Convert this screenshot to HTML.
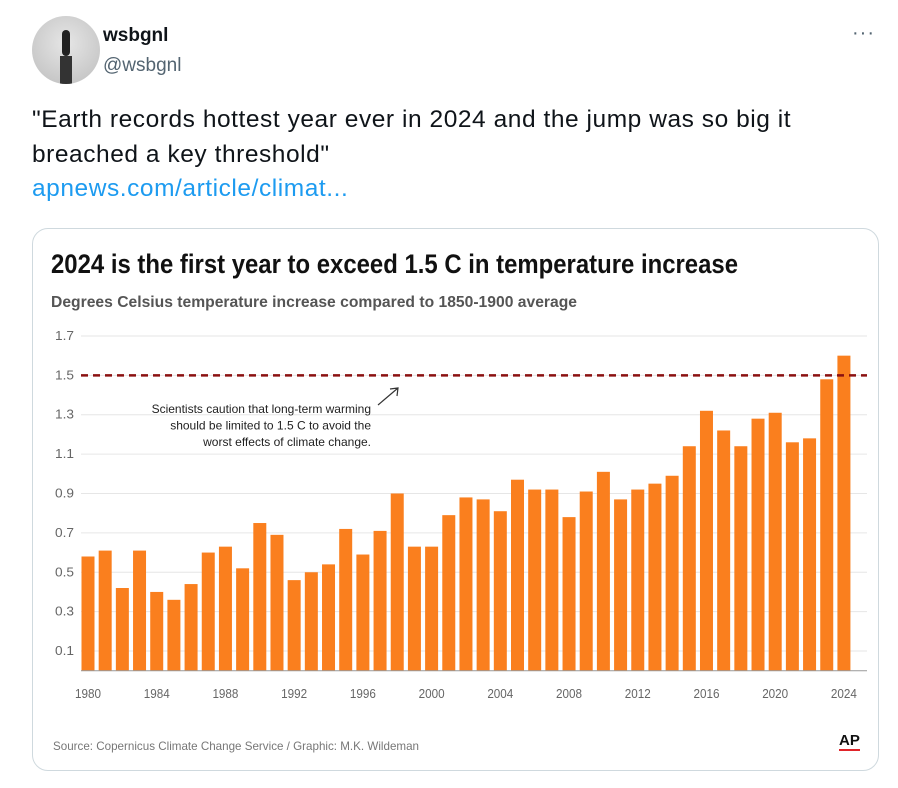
<!DOCTYPE html>
<html><head><meta charset="utf-8"><style>
body{margin:0;width:898px;height:788px;background:#fff;font-family:"Liberation Sans",sans-serif;overflow:hidden;position:relative}
.abs{position:absolute}
</style></head><body>
<div class="abs" style="left:32px;top:16px;width:68px;height:68px;border-radius:50%;background:radial-gradient(circle at 50% 40%,#e6e6e6,#bdbdbd);overflow:hidden">
 <div style="position:absolute;left:30px;top:14px;width:8px;height:26px;background:#222;border-radius:4px"></div>
 <div style="position:absolute;left:28px;top:40px;width:12px;height:28px;background:#333"></div>
</div>
<div class="abs" style="left:103px;top:25px;font-weight:bold;font-size:19px;color:#0f1419">wsbgnl</div>
<div class="abs" style="left:103px;top:55px;font-size:19px;color:#536471">@wsbgnl</div>
<div class="abs" style="left:852px;top:22px;font-size:20px;color:#536471;letter-spacing:1px">···</div>
<div class="abs" style="left:32px;top:103px;font-size:24.5px;letter-spacing:0.55px;line-height:34.5px;color:#0f1419;width:800px">"Earth records hottest year ever in 2024 and the jump was so big it breached a key threshold"<br><span style="color:#1d9bf0">apnews.com/article/climat...</span></div>
<div class="abs" style="left:32px;top:228px;width:847px;height:543px;border:1px solid #cfd9de;border-radius:16px;box-sizing:border-box;overflow:hidden">
<svg id="chart" width="847" height="543" viewBox="32 228 847 543" xmlns="http://www.w3.org/2000/svg" style="display:block"></svg>
</div>
<script>
const years=[1980,1981,1982,1983,1984,1985,1986,1987,1988,1989,1990,1991,1992,1993,1994,1995,1996,1997,1998,1999,2000,2001,2002,2003,2004,2005,2006,2007,2008,2009,2010,2011,2012,2013,2014,2015,2016,2017,2018,2019,2020,2021,2022,2023,2024];
const values=[0.58,0.61,0.42,0.61,0.40,0.36,0.44,0.60,0.63,0.52,0.75,0.69,0.46,0.50,0.54,0.72,0.59,0.71,0.90,0.63,0.63,0.79,0.88,0.87,0.81,0.97,0.92,0.92,0.78,0.91,1.01,0.87,0.92,0.95,0.99,1.14,1.32,1.22,1.14,1.28,1.31,1.16,1.18,1.48,1.60];
const yTicks=[0.1,0.3,0.5,0.7,0.9,1.1,1.3,1.5,1.7];
const xTicks=[1980,1984,1988,1992,1996,2000,2004,2008,2012,2016,2020,2024];
const threshold=[1.5];
const NS="http://www.w3.org/2000/svg";
const svg=document.getElementById('chart');
const y=v=>669.7-v*196.9;
const x=yr=>87+(yr-1980)*17.18;
function mk(tag,attrs,text){const e=document.createElementNS(NS,tag);for(const k in attrs)e.setAttribute(k,attrs[k]);if(text!=null)e.textContent=text;svg.appendChild(e);return e;}
let t=mk('text',{x:50,y:272,'font-size':27,'font-weight':'bold',fill:'#111','font-family':'"Liberation Sans Narrow","Liberation Sans",sans-serif',textLength:687,lengthAdjust:'spacingAndGlyphs'},'2024 is the first year to exceed 1.5 C in temperature increase');


t=mk('text',{x:50,y:306,'font-size':16,'font-weight':'bold',fill:'#555','font-family':'"Liberation Sans Narrow","Liberation Sans",sans-serif',textLength:526,lengthAdjust:'spacingAndGlyphs'},'Degrees Celsius temperature increase compared to 1850-1900 average');


yTicks.forEach(v=>{
 const g=mk('line',{x1:80,x2:866,y1:y(v),y2:y(v),stroke:'#e6e6e6','stroke-width':1});
 
 
 const l=mk('text',{x:54,y:y(v)+4,'font-size':12.5,fill:'#666','font-family':'"Liberation Sans Narrow","Liberation Sans",sans-serif',textLength:19,lengthAdjust:'spacingAndGlyphs'},v.toFixed(1));
 
 
});
years.forEach((yr,i)=>{
 const b=mk('rect',{x:x(yr)-6.5,y:y(values[i]),width:13,height:y(0)-y(values[i]),fill:'#fa7f1e'});
 
 
});
mk('line',{x1:80,x2:866,y1:y(0),y2:y(0),stroke:'#999','stroke-width':1});
xTicks.forEach(yr=>{
 const l=mk('text',{x:x(yr)-13,y:697,'font-size':12.5,fill:'#666','font-family':'"Liberation Sans Narrow","Liberation Sans",sans-serif',textLength:26,lengthAdjust:'spacingAndGlyphs'},String(yr));
 
 
});
threshold.forEach(v=>{
 const d=mk('line',{x1:80,x2:866,y1:y(v),y2:y(v),stroke:'#8b1111','stroke-width':2.5,'stroke-dasharray':'7,5'});
 
 
});
['Scientists caution that long-term warming','should be limited to 1.5 C to avoid the','worst effects of climate change.'].forEach((s,i)=>{
 const a=mk('text',{x:370,y:412+i*16.5,'font-size':12,fill:'#222','text-anchor':'end','font-family':'"Liberation Sans Narrow","Liberation Sans",sans-serif'},s);
 
 
});
mk('path',{d:'M377 404 L397 387 M389 388 L397 387 L396 395',stroke:'#333','stroke-width':1.2,fill:'none'});
t=mk('text',{x:52,y:749,'font-size':12,fill:'#777','font-family':'"Liberation Sans Narrow","Liberation Sans",sans-serif',textLength:366,lengthAdjust:'spacingAndGlyphs'},'Source: Copernicus Climate Change Service / Graphic: M.K. Wildeman');


t=mk('text',{x:838,y:744,'font-size':15,'font-weight':'bold',fill:'#111'},'AP');


mk('rect',{x:838,y:748,width:21,height:2,fill:'#e0242a'});
</script>
</body></html>
